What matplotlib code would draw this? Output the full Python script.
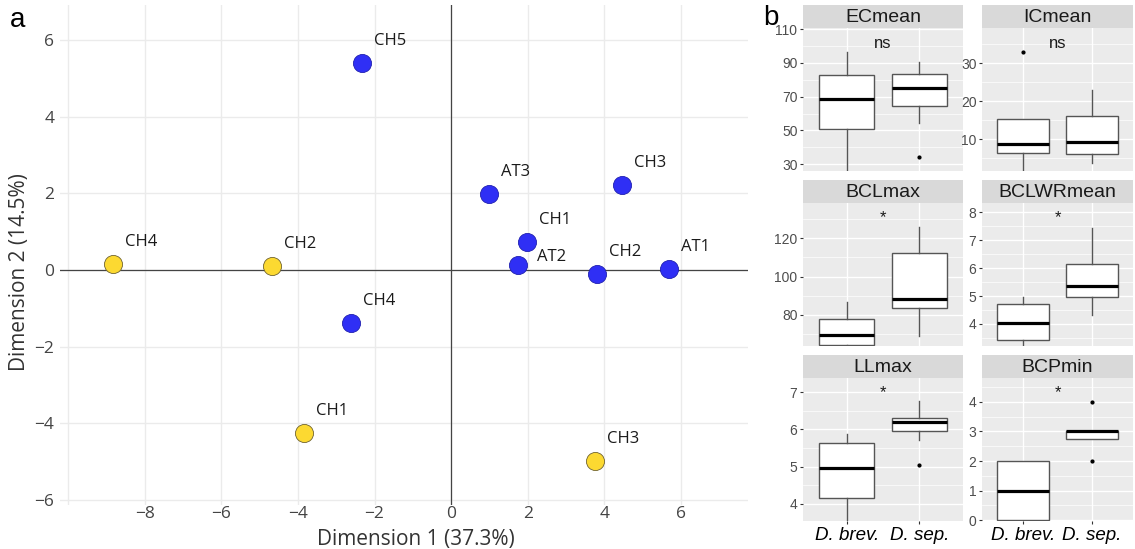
import matplotlib
matplotlib.use("Agg")
import matplotlib.pyplot as plt
from matplotlib.ticker import AutoMinorLocator, FuncFormatter

# Panel a: PCA scores of the populations
SITES = ["CH5", "AT3", "CH3", "CH1", "AT2", "CH2", "AT1", "CH4",
         "CH4", "CH2", "CH1", "CH3"]
DIM1 = [-2.32, 0.99, 4.47, 1.98, 1.74, 3.82, 5.68, -2.62,
        -8.83, -4.68, -3.84, 3.75]
DIM2 = [5.40, 1.98, 2.22, 0.72, 0.13, -0.10, 0.02, -1.38,
        0.15, 0.11, -4.25, -5.00]
GROUP = [1, 1, 1, 1, 1, 1, 1, 1, 2, 2, 2, 2]

# Panel b: boxplot summaries, (whislo, q1, med, q3, whishi) for D. brev. / D. sep.
VARIABLES = ["ECmean", "ICmean", "BCLmax", "BCLWRmean", "LLmax", "BCPmin"]
TAXA = ["D. brev.", "D. sep."]
SIGNIF = ["ns", "ns", "*", "*", "*", "*"]
BREV_STATS = [
    (26.0, 50.7, 68.7, 82.6, 96.2),
    (1.7, 6.4, 8.9, 15.4, 15.4),
    (63.8, 64.3, 69.6, 77.7, 86.9),
    (3.21, 3.41, 4.02, 4.70, 4.98),
    (3.54, 4.16, 4.97, 5.64, 5.88),
    (0.0, 0.0, 1.0, 2.0, 2.0),
]
SEP_STATS = [
    (54.3, 64.6, 75.1, 83.6, 90.7),
    (3.9, 6.05, 9.4, 16.2, 23.0),
    (69.2, 83.5, 88.5, 112.5, 125.6),
    (4.32, 4.95, 5.35, 6.15, 7.46),
    (5.71, 5.97, 6.19, 6.31, 6.75),
    (2.75, 2.75, 3.0, 3.0, 3.0),
]
BREV_OUTLIERS = [[], [32.8], [], [], [], []]
SEP_OUTLIERS = [[34.2], [], [], [], [5.04], [2.0, 4.0]]

# axis setup for the facets
Y_TICKS = [[30, 50, 70, 90, 110], [10, 20, 30], [80, 100, 120],
           [4, 5, 6, 7, 8], [4, 5, 6, 7], [0, 1, 2, 3, 4]]
Y_LIMS = [(26.0, 110.6), (1.7, 39.2), (63.8, 138.3),
          (3.21, 8.34), (3.54, 7.38), (-0.03, 4.81)]

COLORS = {1: "#2F2FF5", 2: "#FCD931"}
EDGES = {1: "#2020B0", 2: "#6F6330"}

W, H = 1135, 549


def px_axes(fig, left, top, right, bottom):
    return fig.add_axes([left / W, 1 - bottom / H, (right - left) / W, (bottom - top) / H])


def to_stats(t, fliers):
    lo, q1, med, q3, hi = t
    return dict(whislo=lo, q1=q1, med=med, q3=q3, whishi=hi, fliers=fliers)


def main():
    fig = plt.figure(figsize=(W / 100, H / 100), dpi=100)

    # ---- Panel a ----
    ax = px_axes(fig, 60, 5, 748, 505)
    ax.set_xlim(-10.21, 7.75)
    ax.set_ylim(-6.14, 6.92)
    ax.set_xticks(range(-10, 7, 2))
    ax.set_yticks(range(-6, 7, 2))
    fmt = FuncFormatter(lambda v, p: "" if v < -9 else f"{v:g}".replace("-", "\u2212"))
    ax.xaxis.set_major_formatter(fmt)
    ax.yaxis.set_major_formatter(fmt)
    ax.grid(True, color="#EBEBEB", linewidth=1.0)
    ax.set_axisbelow(True)
    for s in ax.spines.values():
        s.set_visible(False)
    ax.tick_params(axis="y", length=0, labelsize=12.5, labelcolor="#444444", pad=4)
    ax.tick_params(axis="x", length=0, labelsize=12.5, labelcolor="#444444", pad=1)
    for lab in ax.get_xticklabels() + ax.get_yticklabels():
        lab.set_family("Open Sans")
    ax.axhline(0, color="#444444", linewidth=0.9, zorder=1)
    ax.axvline(0, color="#444444", linewidth=0.9, zorder=1)

    for g in (1, 2):
        xs = [x for x, gg in zip(DIM1, GROUP) if gg == g]
        ys = [y for y, gg in zip(DIM2, GROUP) if gg == g]
        ax.scatter(xs, ys, s=170, color=COLORS[g], edgecolor=EDGES[g],
                   linewidth=0.6, zorder=3)

    for name, x, y, g in zip(SITES, DIM1, DIM2, GROUP):
        # AT2 label sits beside its point
        off = (13.5, 0) if name == "AT2" else (8.5, 10)
        ax.annotate(name, (x, y), xytext=off, textcoords="offset points",
                    ha="left", va="bottom", fontsize=12, family="Open Sans",
                    color="#1A1A1A")

    fig.text(416 / W, 1 - 539 / H, "Dimension 1 (37.3%)", ha="center", va="center",
             fontsize=15, family="Open Sans", color="#333333")
    fig.text(20 / W, 1 - 272 / H, "Dimension 2 (14.5%)", ha="center", va="center",
             rotation=90, fontsize=15, family="Open Sans", color="#333333")
    fig.text(18 / W, 1 - 20 / H, "a", ha="center", va="center", fontsize=20,
             family="Liberation Sans")
    fig.text(771 / W, 1 - 18 / H, "b", ha="center", va="center", fontsize=20,
             family="Liberation Sans")

    # ---- Panel b ----
    col_lr = [(803, 963), (982, 1133)]
    row_tb = [(28, 171), (203, 346), (378, 521)]
    for i, var in enumerate(VARIABLES):
        r, c = divmod(i, 2)
        left, right = col_lr[c]
        top, bottom = row_tb[r]

        strip = px_axes(fig, left, top - 23, right, top)
        strip.set_facecolor("#D9D9D9")
        strip.set_xticks([])
        strip.set_yticks([])
        for s in strip.spines.values():
            s.set_visible(False)
        strip.text(0.5, 0.45, var, ha="center", va="center", fontsize=14,
                   family="Liberation Sans", color="#1A1A1A", transform=strip.transAxes)

        bx = px_axes(fig, left, top, right, bottom)
        bx.set_facecolor("#EBEBEB")
        for s in bx.spines.values():
            s.set_visible(False)
        stats = [to_stats(BREV_STATS[i], BREV_OUTLIERS[i]),
                 to_stats(SEP_STATS[i], SEP_OUTLIERS[i])]
        bx.bxp(stats, positions=[1, 2], widths=0.75, showcaps=False, patch_artist=True,
               boxprops=dict(facecolor="white", edgecolor="#555555", linewidth=1.0),
               medianprops=dict(color="black", linewidth=2.3),
               whiskerprops=dict(color="#555555", linewidth=1.0),
               flierprops=dict(marker="o", markersize=2, markerfacecolor="black",
                               markeredgecolor="black"))
        bx.set_xlim(0.4, 2.6)
        bx.set_ylim(*Y_LIMS[i])
        bx.set_yticks(Y_TICKS[i])
        bx.yaxis.set_minor_locator(AutoMinorLocator(2))
        bx.grid(True, which="major", color="white", linewidth=1.0)
        bx.grid(True, which="minor", axis="y", color="white", linewidth=0.5)
        bx.set_axisbelow(True)
        bx.tick_params(axis="y", which="major", length=2.5, color="#333333",
                       labelsize=10, labelcolor="#4D4D4D", pad=1.5)
        bx.tick_params(axis="y", which="minor", length=0)
        for lab in bx.get_yticklabels():
            lab.set_family("Liberation Sans")
        bx.set_xticks([1, 2])
        if r == 2:
            bx.set_xticklabels(TAXA, fontsize=13.5, style="italic", family="Liberation Sans")
            bx.tick_params(axis="x", length=2.5, color="#333333", pad=2)
        else:
            bx.tick_params(axis="x", length=0, labelbottom=False)

        lo, hi = Y_LIMS[i]
        bx.text(1.5, hi - 0.105 * (hi - lo), SIGNIF[i], ha="center", va="center",
                fontsize=12, family="Liberation Sans", color="#1A1A1A")

    fig.savefig("out.png", dpi=100)


if __name__ == "__main__":
    main()
